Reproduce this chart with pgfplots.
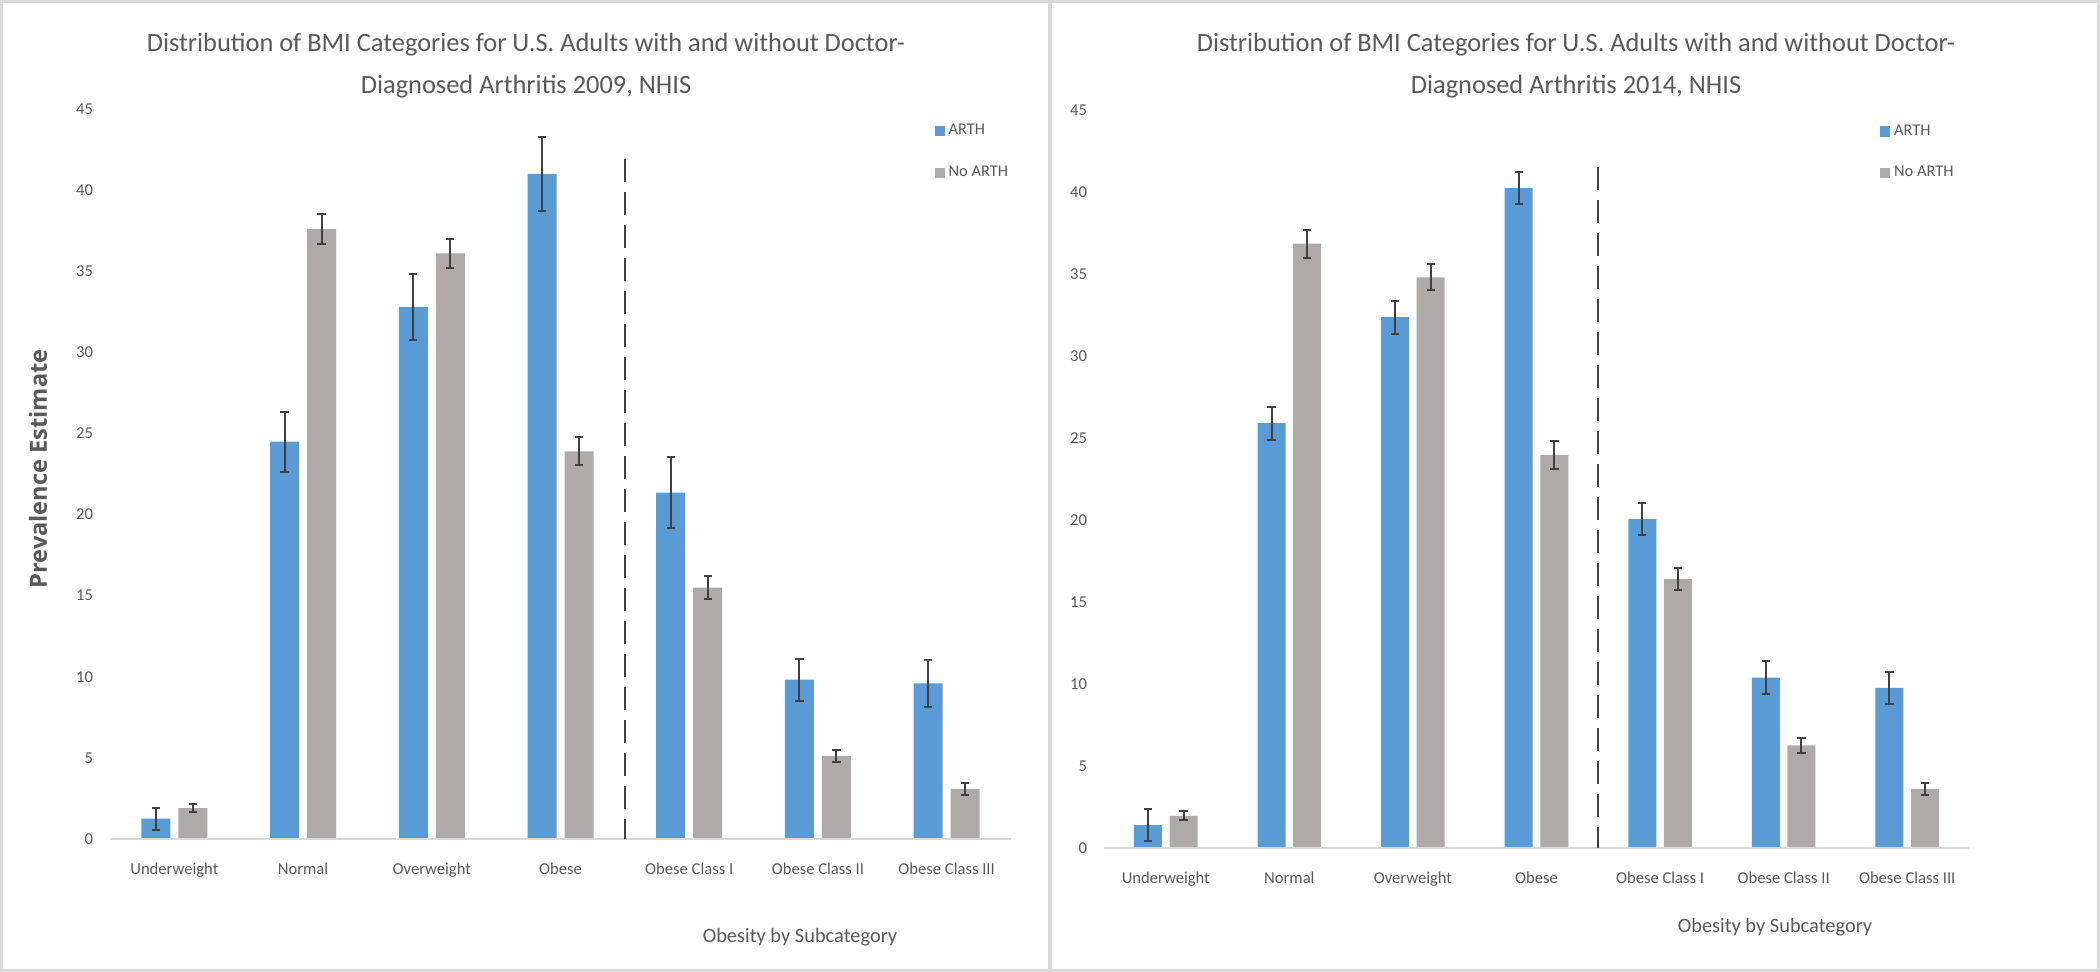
\documentclass[border=0pt]{standalone}
\usepackage{fontspec}
\setmainfont{Carlito}
\newfontfamily\osb{Open Sans}
\usepackage{pgfplots}
\pgfplotsset{compat=1.18}
\definecolor{arth}{HTML}{5B9BD5}
\definecolor{noarth}{HTML}{AEAAAA}
\definecolor{txt}{HTML}{595959}
\definecolor{errc}{HTML}{404040}
\definecolor{framec}{HTML}{D9D9D9}
\pgfplotsset{
  bmi/.style={
    scale only axis, anchor=south west,
    ybar,
    ymin=0, ymax=45, xmin=-0.5, xmax=6.5,
    ytick={0,5,...,45},
    xtick={0,...,6},
    xticklabels={Underweight,Normal,Overweight,Obese,Obese Class I,Obese Class II,Obese Class III},
    axis line style={draw=none},
    major tick length=0pt,
    tick style={draw=none},
    /pgf/number format/assume math mode=true,
    ticklabel style={font=\fontsize{8.3}{10}\selectfont, text=txt},
    xticklabel style={yshift=-8.5pt},
    yticklabel style={xshift=-5pt},
    clip=false,
    legend style={draw=none, fill=none, font=\fontsize{8.2}{10}\selectfont, text=txt,
      row sep=10pt, cells={anchor=west}, inner sep=0pt},
    legend cell align=left,
  },
  errs/.style={
    error bars/.cd, y dir=both, y explicit,
    error bar style={errc, line width=1pt},
    error mark options={rotate=90, mark size=2.1pt, errc, line width=1pt},
  },
}
\begin{document}
\begin{tikzpicture}
\path[use as bounding box] (0,0) rectangle (1050pt,486pt);
\draw[framec, line width=1.5pt] (0.75pt,0.75pt) rectangle (1049.25pt,485.25pt);
\draw[framec, line width=2pt] (525pt,0pt) -- (525pt,486pt);

% ---------------- 2009 ----------------
\begin{axis}[bmi, at={(55pt,66.5pt)}, width=450.5pt, height=365pt, bar width=14.5pt,
  legend style={at={(0.915,0.985)}, anchor=north west}]
\addlegendimage{legend image code/.code={\fill[arth] (0pt,-2.3pt) rectangle (4.5pt,2.3pt);}}
\addlegendentry{ARTH}
\addlegendimage{legend image code/.code={\fill[noarth] (0pt,-2.3pt) rectangle (4.5pt,2.3pt);}}
\addlegendentry{No ARTH}
\addplot[bar shift=-9.25pt, fill=arth, draw=none, errs] coordinates {
  (0,1.25) +- (0,0.68)
  (1,24.5) +- (0,1.85)
  (2,32.8) +- (0,2.05)
  (3,41.0) +- (0,2.3)
  (4,21.35) +- (0,2.2)
  (5,9.82) +- (0,1.3)
  (6,9.59) +- (0,1.45)
};
\addplot[bar shift=9.25pt, fill=noarth, draw=none, errs] coordinates {
  (0,1.9) +- (0,0.25)
  (1,37.6) +- (0,0.9)
  (2,36.1) +- (0,0.9)
  (3,23.9) +- (0,0.85)
  (4,15.5) +- (0,0.7)
  (5,5.12) +- (0,0.35)
  (6,3.09) +- (0,0.35)
};
\draw[framec, line width=1pt] (axis cs:-0.5,0) -- (axis cs:6.5,0);
\draw[errc, line width=1.2pt, dash pattern=on 11.5pt off 5pt] (axis cs:3.5,41.9) -- (axis cs:3.5,0);
\end{axis}

% ---------------- 2014 ----------------
\begin{axis}[bmi, at={(552pt,62pt)}, width=432.5pt, height=369pt, bar width=14pt,
  legend style={at={(0.897,0.986)}, anchor=north west}]
\addlegendimage{legend image code/.code={\fill[arth] (0pt,-2.3pt) rectangle (4.5pt,2.3pt);}}
\addlegendentry{ARTH}
\addlegendimage{legend image code/.code={\fill[noarth] (0pt,-2.3pt) rectangle (4.5pt,2.3pt);}}
\addlegendentry{No ARTH}
\addplot[bar shift=-8.9pt, fill=arth, draw=none, errs] coordinates {
  (0,1.4) +- (0,1.0)
  (1,25.9) +- (0,1.0)
  (2,32.37) +- (0,1.0)
  (3,40.24) +- (0,1.0)
  (4,20.06) +- (0,1.0)
  (5,10.39) +- (0,1.0)
  (6,9.76) +- (0,1.0)
};
\addplot[bar shift=8.9pt, fill=noarth, draw=none, errs] coordinates {
  (0,1.96) +- (0,0.27)
  (1,36.85) +- (0,0.85)
  (2,34.8) +- (0,0.8)
  (3,23.97) +- (0,0.85)
  (4,16.39) +- (0,0.67)
  (5,6.25) +- (0,0.47)
  (6,3.6) +- (0,0.35)
};
\draw[framec, line width=1pt] (axis cs:-0.5,0) -- (axis cs:6.5,0);
\draw[errc, line width=1.2pt, dash pattern=on 11.5pt off 5pt] (axis cs:3.5,41.5) -- (axis cs:3.5,0);
\end{axis}

% titles and labels
\node[align=center, font=\fontsize{13.2}{21}\selectfont, text=txt] at (263pt,453.25pt)
  {Distribution of BMI Categories for U.S. Adults with and without Doctor-\\Diagnosed Arthritis 2009, NHIS};
\node[align=center, font=\fontsize{13.2}{21}\selectfont, text=txt] at (788pt,453.25pt)
  {Distribution of BMI Categories for U.S. Adults with and without Doctor-\\Diagnosed Arthritis 2014, NHIS};
\node[rotate=90, font=\osb\bfseries\fontsize{11.8}{13}\selectfont, text=txt] at (19pt,251.5pt) {Prevalence Estimate};
\node[font=\fontsize{10.2}{12}\selectfont, text=txt] at (400pt,17.5pt) {Obesity by Subcategory};
\node[font=\fontsize{10.2}{12}\selectfont, text=txt] at (887.5pt,22.5pt) {Obesity by Subcategory};
\end{tikzpicture}
\end{document}
